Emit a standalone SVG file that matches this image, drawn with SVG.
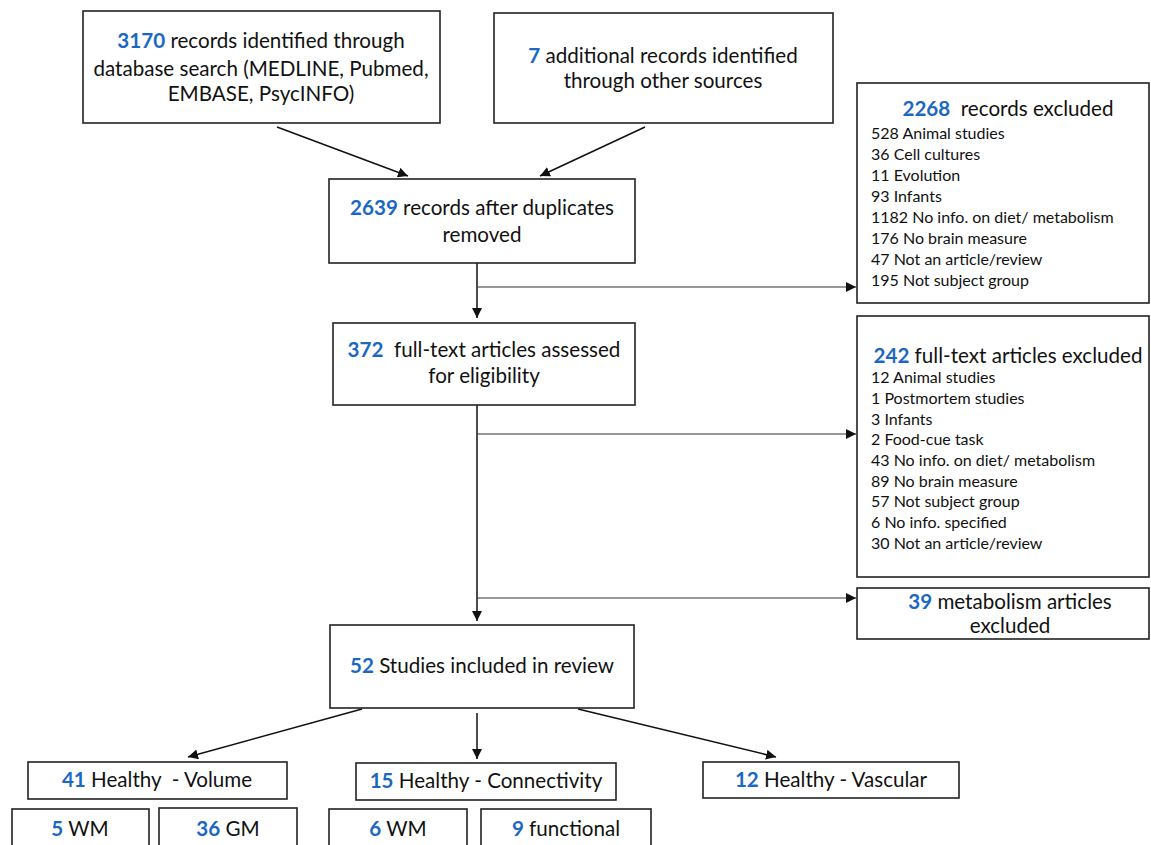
<svg xmlns="http://www.w3.org/2000/svg" width="1151" height="845" viewBox="0 0 1151 845">
<style>
.box{fill:#fff;stroke:#222;stroke-width:1.6}
text{font-family:Lato,"Liberation Sans",sans-serif;fill:#111;white-space:pre}
.t{font-size:20.6px;text-anchor:middle}
.s{font-size:16px}
.h{font-size:20.6px;text-anchor:middle}
.n{fill:#1B68C4;font-weight:bold}
.c{stroke:#111;stroke-width:1.5;fill:none}
.c1{stroke:#333;stroke-width:1;fill:none}
</style>
<defs>
<marker id="ah" viewBox="0 0 10 10" refX="10" refY="5" markerWidth="10" markerHeight="10" markerUnits="userSpaceOnUse" orient="auto">
<path d="M0,0 L10,5 L0,10 z" fill="#111"/>
</marker>
</defs>
<rect width="1151" height="845" fill="#fff"/>

<g id="connectors">
<line class="c" x1="277" y1="127" x2="408" y2="176" marker-end="url(#ah)"/>
<line class="c" x1="645" y1="127" x2="540" y2="176" marker-end="url(#ah)"/>
<line class="c" x1="477" y1="263" x2="477" y2="318" marker-end="url(#ah)"/>
<line class="c1" x1="477" y1="287" x2="856" y2="287" marker-end="url(#ah)"/>
<line class="c" x1="477" y1="405" x2="477" y2="621" marker-end="url(#ah)"/>
<line class="c1" x1="477" y1="434" x2="856" y2="434" marker-end="url(#ah)"/>
<line class="c1" x1="477" y1="598" x2="856" y2="598" marker-end="url(#ah)"/>
<line class="c" x1="362" y1="709" x2="188" y2="757" marker-end="url(#ah)"/>
<line class="c" x1="477" y1="713" x2="477" y2="759" marker-end="url(#ah)"/>
<line class="c" x1="578" y1="709" x2="776" y2="757" marker-end="url(#ah)"/>
</g>

<g id="n-identified">
<rect class="box" x="83" y="11" width="357" height="112"/>
<text class="t" x="261" y="48"><tspan class="n">3170</tspan> records identified through</text>
<text class="t" x="261" y="76">database search (MEDLINE, Pubmed,</text>
<text class="t" x="261" y="101">EMBASE, PsycINFO)</text>
</g>

<g id="n-additional">
<rect class="box" x="494" y="13" width="339" height="110"/>
<text class="t" x="663" y="63"><tspan class="n">7</tspan> additional records identified</text>
<text class="t" x="663" y="88">through other sources</text>
</g>

<g id="n-duplicates">
<rect class="box" x="329" y="179" width="306" height="84"/>
<text class="t" x="482" y="215"><tspan class="n">2639</tspan> records after duplicates</text>
<text class="t" x="482" y="242">removed</text>
</g>

<g id="n-excluded1">
<rect class="box" x="857" y="83" width="292" height="220"/>
<text class="h" x="1008" y="116"><tspan class="n">2268</tspan>  records excluded</text>
<text class="s" x="871" y="139">528 Animal studies</text>
<text class="s" x="871" y="160">36 Cell cultures</text>
<text class="s" x="871" y="181">11 Evolution</text>
<text class="s" x="871" y="202">93 Infants</text>
<text class="s" x="871" y="223">1182 No info. on diet/ metabolism</text>
<text class="s" x="871" y="244">176 No brain measure</text>
<text class="s" x="871" y="265">47 Not an article/review</text>
<text class="s" x="871" y="286">195 Not subject group</text>
</g>

<g id="n-fulltext">
<rect class="box" x="333" y="323" width="302" height="82"/>
<text class="t" x="484" y="357"><tspan class="n">372</tspan>  full-text articles assessed</text>
<text class="t" x="484" y="383">for eligibility</text>
</g>

<g id="n-excluded2">
<rect class="box" x="857" y="316" width="292" height="261"/>
<text class="h" x="1008" y="363"><tspan class="n">242</tspan> full-text articles excluded</text>
<text class="s" x="871" y="383">12 Animal studies</text>
<text class="s" x="871" y="404">1 Postmortem studies</text>
<text class="s" x="871" y="425">3 Infants</text>
<text class="s" x="871" y="445">2 Food-cue task</text>
<text class="s" x="871" y="466">43 No info. on diet/ metabolism</text>
<text class="s" x="871" y="487">89 No brain measure</text>
<text class="s" x="871" y="507">57 Not subject group</text>
<text class="s" x="871" y="528">6 No info. specified</text>
<text class="s" x="871" y="549">30 Not an article/review</text>
</g>

<g id="n-metabolism">
<rect class="box" x="857" y="588" width="292" height="51"/>
<text class="h" x="1010" y="609"><tspan class="n">39</tspan> metabolism articles</text>
<text class="h" x="1010" y="633">excluded</text>
</g>

<g id="n-included">
<rect class="box" x="330" y="625" width="304" height="83"/>
<text class="t" x="482" y="673"><tspan class="n">52</tspan> Studies included in review</text>
</g>

<g id="n-volume">
<rect class="box" x="28" y="762" width="259" height="37"/>
<text class="t" x="157" y="787"><tspan class="n">41</tspan> Healthy  - Volume</text>
</g>

<g id="n-connectivity">
<rect class="box" x="356" y="763" width="260" height="37"/>
<text class="t" x="486" y="788"><tspan class="n">15</tspan> Healthy - Connectivity</text>
</g>

<g id="n-vascular">
<rect class="box" x="703" y="762" width="256" height="36"/>
<text class="t" x="831" y="787"><tspan class="n">12</tspan> Healthy - Vascular</text>
</g>

<g id="n-wm1">
<rect class="box" x="12" y="809" width="137" height="50"/>
<text class="t" x="80" y="836"><tspan class="n">5</tspan> WM</text>
</g>

<g id="n-gm">
<rect class="box" x="159" y="808" width="138" height="51"/>
<text class="t" x="228" y="836"><tspan class="n">36</tspan> GM</text>
</g>

<g id="n-wm2">
<rect class="box" x="329" y="809" width="138" height="50"/>
<text class="t" x="398" y="836"><tspan class="n">6</tspan> WM</text>
</g>

<g id="n-functional">
<rect class="box" x="481" y="809" width="170" height="50"/>
<text class="t" x="566" y="836"><tspan class="n">9</tspan> functional</text>
</g>
</svg>
